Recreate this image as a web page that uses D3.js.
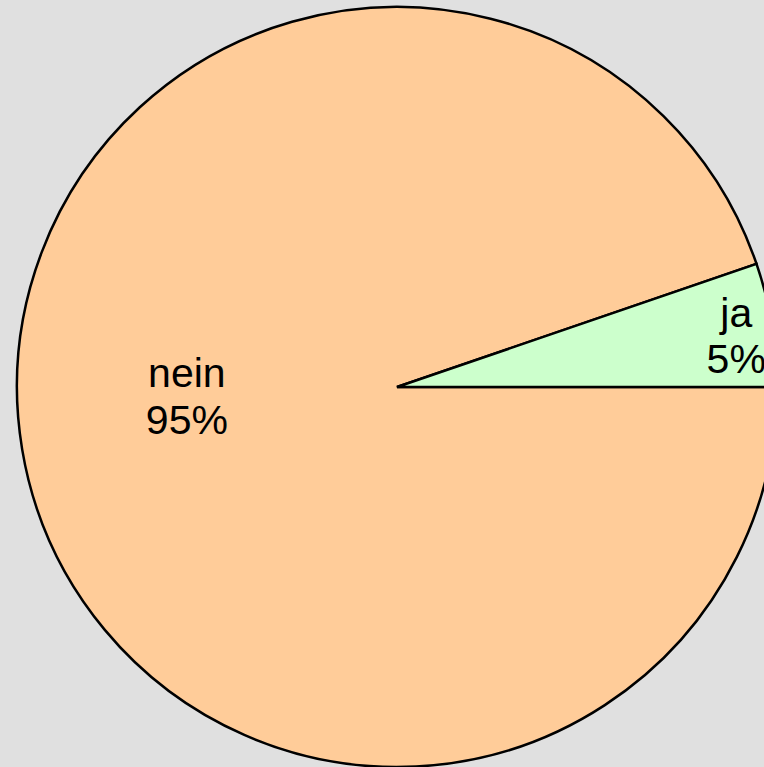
<!DOCTYPE html>
<html>
<head>
<meta charset="utf-8">
<script src="https://cdn.jsdelivr.net/npm/d3@7"></script>
<style>
  html, body { margin: 0; padding: 0; background: #e0e0e0; overflow: hidden; }
  svg { display: block; }
</style>
</head>
<body>
<div id="root"></div>
<script>
// Slice data.
const categories = ['nein', 'ja'];
const values = [94.75, 5.25];
const colors = ['#ffcc99', '#ccffcc'];

const width = 764;
const height = 767;
const cx = 397, cy = 387;
const radius = 380;

const svg = d3.select('#root')
  .append('svg')
  .attr('width', width)
  .attr('height', height);

svg.append('rect')
  .attr('width', width)
  .attr('height', height)
  .attr('fill', '#e0e0e0');

const g = svg.append('g')
  .attr('transform', `translate(${cx}, ${cy})`);

const data = categories.map((c, i) => ({ name: c, value: values[i], color: colors[i] }));
const total = d3.sum(values);

// Start at 3 o'clock, the small slice ends back there going counter-clockwise.
const pie = d3.pie()
  .sort(null)
  .value(d => d.value)
  .startAngle(Math.PI / 2)
  .endAngle(Math.PI / 2 + 2 * Math.PI);

const arc = d3.arc().innerRadius(0).outerRadius(radius);

const arcs = pie(data);

g.selectAll('path.slice')
  .data(arcs)
  .enter()
  .append('path')
  .attr('class', 'slice')
  .attr('d', arc)
  .attr('fill', d => d.data.color)
  .attr('stroke', '#000')
  .attr('stroke-width', 2.5)
  .attr('stroke-linejoin', 'miter');

// Label positions: the small slice gets its label near the rim,
// the big one sits out to the left of the centre.
function labelPoint(d) {
  const span = d.endAngle - d.startAngle;
  if (span > Math.PI) {
    return [-0.553 * radius, 4];
  }
  const mid = (d.startAngle + d.endAngle) / 2;
  const r = 0.905 * radius;
  return [Math.sin(mid) * r, -Math.cos(mid) * r];
}

const fontSize = 41;

const labels = g.selectAll('text.label')
  .data(arcs)
  .enter()
  .append('text')
  .attr('class', 'label')
  .attr('text-anchor', 'middle')
  .style('font-family', '"Liberation Sans", Arial, sans-serif')
  .style('font-size', fontSize + 'px')
  .attr('fill', '#000')
  .attr('transform', d => `translate(${labelPoint(d)})`);

labels.append('tspan')
  .attr('x', 0)
  .attr('y', -4)
  .text(d => d.data.name);

labels.append('tspan')
  .attr('x', 0)
  .attr('y', -4 + 46.5)
  .text(d => Math.round(d.data.value / total * 100) + '%');
</script>
</body>
</html>
